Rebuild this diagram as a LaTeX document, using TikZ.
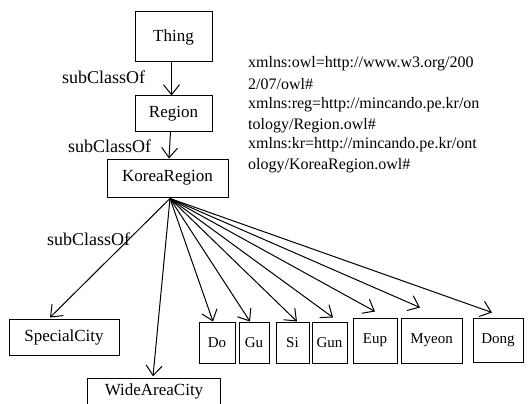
\documentclass[tikz,border=0pt]{standalone}
\usepackage{fontspec}
\setmainfont{Liberation Serif}
\usetikzlibrary{arrows.meta}
\tikzset{
  box/.style={draw, line width=1pt, rectangle, inner sep=0pt},
  big/.style={font=\fontsize{17}{20}\selectfont},
  small/.style={font=\fontsize{15}{18}\selectfont},
  lbl/.style={font=\fontsize{18}{21}\selectfont, inner sep=0pt, anchor=base west},
  ns/.style={font=\fontsize{16}{20}\selectfont, inner sep=0pt, anchor=base west},
  arr/.style={line width=1pt, -{Straight Barb[length=10pt,width=16pt,line width=1pt]}}
}
\begin{document}
\begin{tikzpicture}[x=1pt,y=-1pt]
\useasboundingbox[fill=white] (0,0) rectangle (528,404);
% class boxes
\node[box,big,minimum width=77pt,minimum height=50pt] (thing) at (173.5,37) {Thing};
\node[box,big,minimum width=77pt,minimum height=35pt] (region) at (173.5,113.5) {Region};
\node[box,big,minimum width=121pt,minimum height=38pt] (kr) at (167.5,178) {KoreaRegion};
\node[box,big,minimum width=110pt,minimum height=36pt] (sc) at (64,337) {SpecialCity};
\node[big,inner sep=0pt,minimum width=132pt,minimum height=25pt] (wac) at (154,391) {WideAreaCity};
\draw[line width=1pt] ([yshift=-8pt]wac.south west) |- (wac.north east) -- ([yshift=-8pt]wac.south east);
\node[box,small,minimum width=36pt,minimum height=41pt] (do) at (217,342.5) {Do};
\node[box,small,minimum width=30pt,minimum height=41pt] (gu) at (254,342.5) {Gu};
\node[box,small,minimum width=33pt,minimum height=41pt] (si) at (292.5,342.5) {Si};
\node[box,small,minimum width=35pt,minimum height=41pt] (gun) at (329.5,342.5) {Gun};
\node[box,small,minimum width=44pt,minimum height=45pt] (eup) at (375,340.5) {Eup};
\node[box,small,minimum width=61pt,minimum height=45pt] (myeon) at (431.5,340.5) {Myeon};
\node[box,small,minimum width=50pt,minimum height=44pt] (dong) at (498,340) {Dong};
% labels
\node[lbl] (l1) at (62,84) {subClassOf};
\node[lbl] (l2) at (68,152) {subClassOf};
\node[lbl] (l3) at (47,245) {subClassOf};
% namespaces
\node[ns] (n1) at (248,68) {xmlns:owl=http://www.w3.org/200};
\node[ns] (n2) at (248,89) {2/07/owl\#};
\node[ns] (n3) at (248,109) {xmlns:reg=http://mincando.pe.kr/on};
\node[ns] (n4) at (248,129) {tology/Region.owl\#};
\node[ns] (n5) at (248,149) {xmlns:kr=http://mincando.pe.kr/ont};
\node[ns] (n6) at (248,169) {ology/KoreaRegion.owl\#};
% connectors
\draw[arr] ([xshift=-2pt]thing.south) -- ([xshift=-2pt]region.north);
\draw[arr] ([xshift=-3pt]region.south) -- ([xshift=1.5pt]kr.north);
\coordinate (o) at ([xshift=2.5pt,yshift=-1pt]kr.south);
\draw[arr] (o) -- ([xshift=-14pt,yshift=1pt]sc.north);
\draw[arr] (o) -- ([xshift=-1pt,yshift=2pt]wac.north);
\draw[arr] (o) -- ([xshift=-4pt]do.north);
\draw[arr] (o) -- ([xshift=-4pt]gu.north);
\draw[arr] (o) -- ([xshift=4.5pt]si.north);
\draw[arr] (o) -- ([xshift=3.5pt,yshift=4pt]gun.north);
\draw[arr] (o) -- ([yshift=6pt]eup.north);
\draw[arr] (o) -- ([xshift=-11.5pt,yshift=10pt]myeon.north);
\draw[arr] (o) -- ([xshift=-6pt,yshift=5pt]dong.north);
\end{tikzpicture}
\end{document}
